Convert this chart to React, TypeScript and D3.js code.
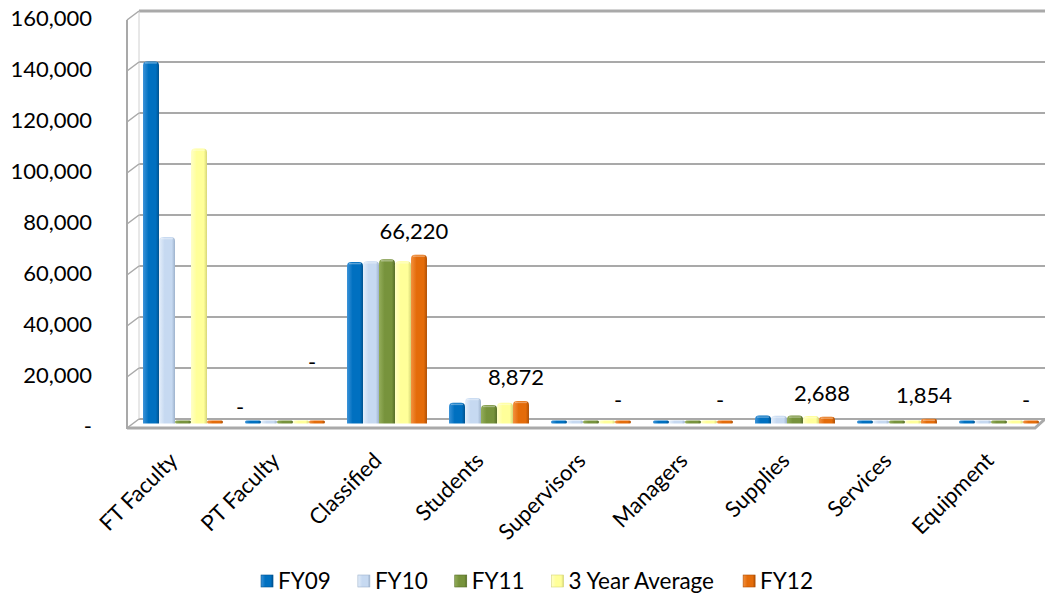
import React, { useEffect } from "react";
import * as d3 from "d3";

const categories = ["FT Faculty", "PT Faculty", "Classified", "Students", "Supervisors", "Managers", "Supplies", "Services", "Equipment"];
const seriesNames = ["FY09", "FY10", "FY11", "3 Year Average", "FY12"];
const fy09 = [142000, 0, 63300, 8100, 0, 0, 3100, 200, 0];
const fy10 = [73100, 0, 63600, 10000, 0, 0, 3000, 200, 0];
const fy11 = [0, 0, 64400, 7300, 0, 0, 3100, 900, 0];
const avg3 = [107800, 0, 63600, 8100, 0, 0, 2900, 500, 0];
const fy12 = [0, 0, 66220, 8872, 0, 0, 2688, 1854, 0];
const yTicks = [0, 20000, 40000, 60000, 80000, 100000, 120000, 140000, 160000];

const seriesValues = [fy09, fy10, fy11, avg3, fy12];
const seriesColors = [
  ["#3a92d8", "#0070C0", "#00528e"],
  ["#e4eefa", "#C6D9F1", "#9db2cc"],
  ["#93ad5a", "#77933C", "#566d27"],
  ["#ffffc8", "#FFFF99", "#d6d676"],
  ["#f3913f", "#E46C0A", "#ad4f05"],
];

const W = 1045;
const H = 596;
const FONT = "Lato, 'Open Sans', sans-serif";

function fmt(v: number) {
  return v === 0 ? "-" : d3.format(",")(v);
}

function measure(text: string, font: string) {
  const c = document.createElement("canvas").getContext("2d");
  if (!c) return text.length * 10;
  c.font = font;
  return c.measureText(text).width;
}

export default function App() {
  useEffect(() => {
    document.body.style.margin = "0";
  }, []);

  const dx = 12;
  const dy = 9;
  const yBack = d3.scaleLinear().domain([0, 160000]).range([419, 11]);
  const yBar = (v: number) => yBack(v) + dy / 2;
  const xBand = d3.scaleBand<string>().domain(categories).range([132, 1050]).paddingInner(0.216).paddingOuter(0.108);
  const xSer = d3.scaleBand<string>().domain(seriesNames).range([0, xBand.bandwidth()]);
  const wallFrontX = 127;
  const wallBackX = wallFrontX + dx;

  // label nudges for manually moved data labels in the original
  const labelNudge: Record<string, [number, number]> = { "FT Faculty": [30, 7], "PT Faculty": [0, -38] };

  const bars: JSX.Element[] = [];
  categories.forEach((cat, ci) => {
    seriesNames.forEach((s, si) => {
      const v = seriesValues[si][ci];
      const x0 = (xBand(cat) as number) + (xSer(s) as number);
      const w = xSer.bandwidth();
      const yb = yBar(0);
      const yt = yBar(v);
      const h = yb - yt;
      if (h < 3) {
        bars.push(
          <g key={`${ci}-${si}`}>
            <rect x={x0} y={yb - 3} width={w} height={3} rx={1.5} fill={`url(#g${si})`} />
          </g>
        );
      } else {
        const r = Math.min(4, w / 2, h / 2);
        const d = `M${x0},${yb} L${x0},${yt + r} Q${x0},${yt} ${x0 + r},${yt} L${x0 + w - r},${yt} Q${x0 + w},${yt} ${x0 + w},${yt + r} L${x0 + w},${yb} Z`;
        bars.push(
          <g key={`${ci}-${si}`}>
            <path d={d} fill={`url(#g${si})`} />
            <path d={`M${x0 + 2},${yt + 1.5} L${x0 + w - 2},${yt + 1.5}`} stroke="#ffffff" strokeOpacity={0.35} strokeWidth={1.5} />
          </g>
        );
      }
    });
  });

  // data labels for FY12
  const labels = categories.map((cat, ci) => {
    const v = fy12[ci];
    const cx = (xBand(cat) as number) + (xSer("FY12") as number) + xSer.bandwidth() / 2 - 5;
    const nudge = labelNudge[cat] || [0, 0];
    return (
      <text key={cat} x={cx + nudge[0]} y={yBar(v) - 16 + nudge[1]} textAnchor="middle" fontSize={22} fontFamily={FONT} fill="#000">
        {fmt(v)}
      </text>
    );
  });

  // legend layout
  const legSize = 22.5;
  const sq = 12;
  const sqGap = 5;
  const itemGap = 27;
  const widths = seriesNames.map((n) => measure(n, `${legSize}px Lato`));
  const total = widths.reduce((a, b) => a + b + sq + sqGap, 0) + itemGap * (seriesNames.length - 1);
  let lx = 537 - total / 2;
  const legendItems = seriesNames.map((n, i) => {
    const x = lx;
    lx += sq + sqGap + widths[i] + itemGap;
    return (
      <g key={n}>
        <rect x={x} y={575} width={sq} height={sq} fill={`url(#g${i})`} stroke={seriesColors[i][2]} strokeWidth={0.6} />
        <text x={x + sq + sqGap} y={589} fontSize={legSize} fontFamily={FONT} fill="#000">
          {n}
        </text>
      </g>
    );
  });

  const gridColor = "#a9a9a9";
  const floorFrontY = yBack(0) + dy;

  return (
    <svg width={W} height={H} style={{ position: "absolute", left: 0, top: 0, background: "#fff" }}>
      <defs>
        {seriesColors.map((c, i) => (
          <linearGradient key={i} id={`g${i}`} x1="0" x2="1" y1="0" y2="0">
            <stop offset="0" stopColor={c[0]} />
            <stop offset="0.35" stopColor={c[1]} />
            <stop offset="0.8" stopColor={c[1]} />
            <stop offset="1" stopColor={c[2]} />
          </linearGradient>
        ))}
      </defs>

      {/* back wall gridlines */}
      {yTicks.map((t) => (
        <line key={`g${t}`} x1={wallBackX} x2={W} y1={yBack(t)} y2={yBack(t)} stroke={gridColor} strokeWidth={t === 160000 ? 3 : 2} />
      ))}
      {/* left wall */}
      <line x1={wallBackX} x2={wallBackX} y1={yBack(160000)} y2={yBack(0)} stroke="#d0d0d0" strokeWidth={1} />
      {yTicks.map((t) => (
        <line key={`w${t}`} x1={wallFrontX} x2={wallBackX} y1={yBack(t) + dy} y2={yBack(t)} stroke={gridColor} strokeWidth={1.5} />
      ))}
      <line x1={wallFrontX} x2={wallFrontX} y1={yBack(160000) + dy} y2={floorFrontY + 1} stroke={gridColor} strokeWidth={2} />
      {/* floor */}
      <path
        d={`M${wallFrontX},${floorFrontY} L${W - 10},${floorFrontY} L${W},${yBack(0)}`}
        fill="none"
        stroke={gridColor}
        strokeWidth={3}
      />

      {bars}
      {labels}

      {/* y axis labels */}
      {yTicks.map((t) => (
        <text key={`y${t}`} x={92} y={yBack(t) + dy} textAnchor="end" dominantBaseline="middle" fontSize={22} fontFamily={FONT} fill="#000">
          {fmt(t)}
        </text>
      ))}

      {/* category labels */}
      {categories.map((c) => {
        const cx = (xBand(c) as number) + xBand.bandwidth() / 2;
        return (
          <text key={c} transform={`translate(${cx - 4},${462}) rotate(-45)`} textAnchor="end" fontSize={22} fontFamily={FONT} fill="#000">
            {c}
          </text>
        );
      })}

      {legendItems}
    </svg>
  );
}
